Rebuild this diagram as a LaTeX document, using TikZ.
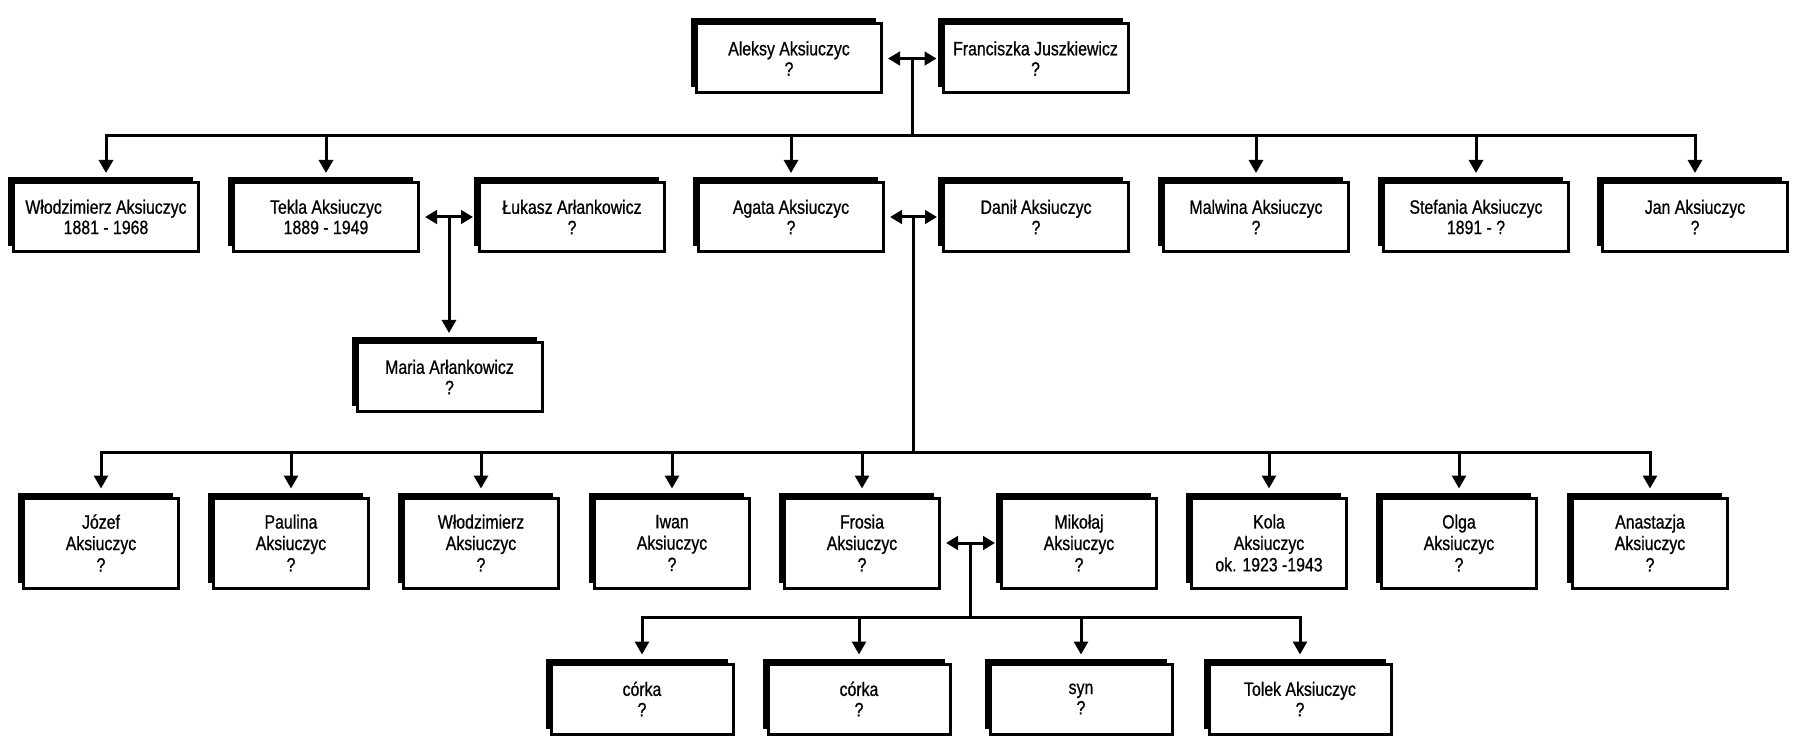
\documentclass[tikz,border=0pt]{standalone}
\usepackage{fontspec}
\setmainfont{Liberation Sans}[FakeStretch=0.82, FakeBold=0.8]
\usetikzlibrary{positioning, arrows.meta, calc, shadows}

\begin{document}
\begin{tikzpicture}[
  box/.style={draw, line width=0.06cm, fill=white, align=center,
              minimum width=3.7cm, minimum height=1.38cm, inner sep=1pt,
              font=\fontsize{11}{11.6}\selectfont,
              general shadow={fill=black, shadow xshift=-0.11cm, shadow yshift=0.11cm}},
  kid/.style={box, minimum width=3.1cm, minimum height=1.8cm,
              font=\fontsize{11}{12.2}\selectfont},
  grand/.style={box, minimum width=3.64cm, minimum height=1.4cm},
  link/.style={line width=0.06cm},
  arr/.style={link, -{Triangle[length=0.26cm, width=0.28cm]}, shorten >=0.16cm},
  pair/.style={link, {Triangle[length=0.24cm, width=0.27cm]}-{Triangle[length=0.24cm, width=0.27cm]},
               shorten <=0.1cm, shorten >=0.1cm}
]
\useasboundingbox (0,0) rectangle (35.9,-14.9);

\node[box] (aleksy) at (15.78,-1.17) {Aleksy Aksiuczyc\\?};
\node[box] (franciszka) at (20.71,-1.17) {Franciszka Juszkiewicz\\?};

\node[box] (wlodzimierz) at (2.12,-4.34) {Włodzimierz Aksiuczyc\\1881 - 1968};
\node[box] (tekla) at (6.52,-4.34) {Tekla Aksiuczyc\\1889 - 1949};
\node[box] (lukasz) at (11.44,-4.34) {Łukasz Arłankowicz\\?};
\node[box] (agata) at (15.82,-4.34) {Agata Aksiuczyc\\?};
\node[box] (danil) at (20.72,-4.34) {Danił Aksiuczyc\\?};
\node[box] (malwina) at (25.12,-4.34) {Malwina Aksiuczyc\\?};
\node[box] (stefania) at (29.52,-4.34) {Stefania Aksiuczyc\\1891 - ?};
\node[box] (jan) at (33.90,-4.34) {Jan Aksiuczyc\\?};

\node[box] (maria) at (8.99,-7.54) {Maria Arłankowicz\\?};

\node[kid] (jozef) at (2.02,-10.86) {Józef\\Aksiuczyc\\?};
\node[kid] (paulina) at (5.82,-10.86) {Paulina\\Aksiuczyc\\?};
\node[kid] (wlodek) at (9.62,-10.86) {Włodzimierz\\Aksiuczyc\\?};
\node[kid] (iwan) at (13.44,-10.86) {Iwan\\Aksiuczyc\\?};
\node[kid] (frosia) at (17.24,-10.86) {Frosia\\Aksiuczyc\\?};
\node[kid] (mikolaj) at (21.58,-10.86) {Mikołaj\\Aksiuczyc\\?};
\node[kid] (kola) at (25.38,-10.86) {Kola\\Aksiuczyc\\ok. 1923 -1943};
\node[kid] (olga) at (29.18,-10.86) {Olga\\Aksiuczyc\\?};
\node[kid] (anastazja) at (33.00,-10.86) {Anastazja\\Aksiuczyc\\?};

\node[grand] (corka1) at (12.84,-13.98) {córka\\?};
\node[grand] (corka2) at (17.18,-13.98) {córka\\?};
\node[grand] (syn) at (21.62,-13.98) {syn\\?};
\node[grand] (tolek) at (26.00,-13.98) {Tolek Aksiuczyc\\?};

\coordinate (m0) at ($(aleksy.east)!0.5!(franciszka.west)$);
\coordinate (m1) at ($(tekla.east)!0.5!(lukasz.west)$);
\coordinate (m2) at ($(agata.east)!0.5!(danil.west)$);
\coordinate (m3) at ($(frosia.east)!0.5!(mikolaj.west)$);
\coordinate (bar0) at (m0 |- 0,-2.72);
\coordinate (bar1) at (m2 |- 0,-9.04);
\coordinate (bar2) at (m3 |- 0,-12.34);

\draw[pair] (aleksy) -- (franciszka);
\draw[link] (m0) -- (bar0);
\draw[arr] (bar0) -| (wlodzimierz.north);
\draw[arr] (bar0) -| (jan.north);
\draw[arr] (tekla |- bar0) -- (tekla.north);
\draw[arr] (agata |- bar0) -- (agata.north);
\draw[arr] (malwina |- bar0) -- (malwina.north);
\draw[arr] (stefania |- bar0) -- (stefania.north);

\draw[pair] (tekla) -- (lukasz);
\draw[arr] (m1) -- (m1 |- maria.north);

\draw[pair] (agata) -- (danil);
\draw[link] (m2) -- (bar1);
\draw[arr] (bar1) -| (jozef.north);
\draw[arr] (bar1) -| (anastazja.north);
\draw[arr] (paulina |- bar1) -- (paulina.north);
\draw[arr] (wlodek |- bar1) -- (wlodek.north);
\draw[arr] (iwan |- bar1) -- (iwan.north);
\draw[arr] (frosia |- bar1) -- (frosia.north);
\draw[arr] (kola |- bar1) -- (kola.north);
\draw[arr] (olga |- bar1) -- (olga.north);

\draw[pair] (frosia) -- (mikolaj);
\draw[link] (m3) -- (bar2);
\draw[arr] (bar2) -| (corka1.north);
\draw[arr] (bar2) -| (tolek.north);
\draw[arr] (corka2 |- bar2) -- (corka2.north);
\draw[arr] (syn |- bar2) -- (syn.north);
\end{tikzpicture}
\end{document}
